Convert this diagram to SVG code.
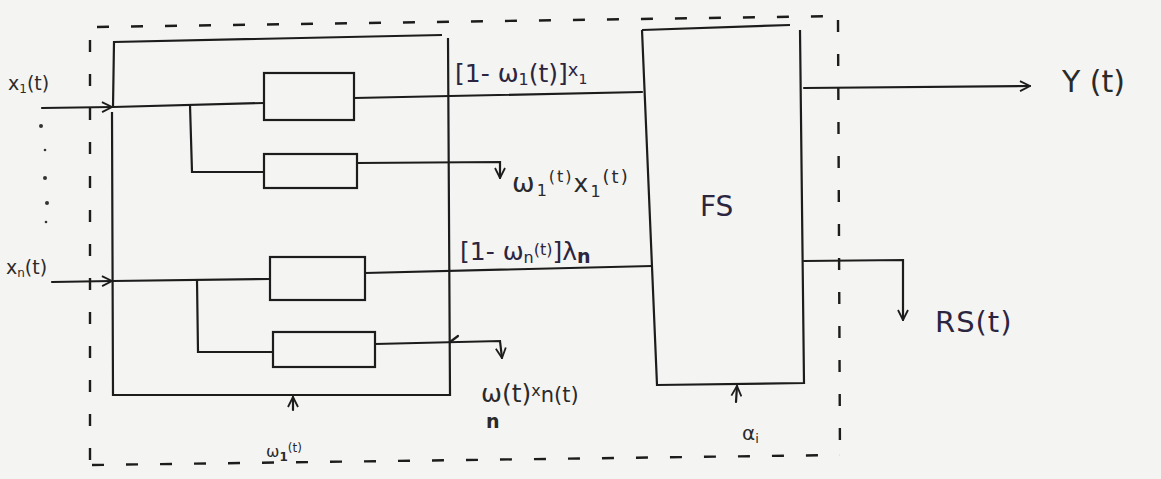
<svg xmlns="http://www.w3.org/2000/svg" width="1161" height="479" viewBox="0 0 1161 479">
<defs>
<style>
.ln{stroke:#1c1c1c;stroke-width:2.2;fill:none;stroke-linecap:round}
.bx{stroke:#1c1c1c;stroke-width:2.2;fill:none}
.ds{stroke:#1c1c1c;stroke-width:2.4;fill:none;stroke-dasharray:12 22}
.t{font-family:"DejaVu Sans",sans-serif;fill:#2a2a2a}
.tp{font-family:"DejaVu Sans",sans-serif;fill:#2c2540}
</style>
<marker id="ar" viewBox="0 0 12 12" refX="11" refY="6" markerWidth="12" markerHeight="12" markerUnits="userSpaceOnUse" orient="auto">
<path d="M1,1 L11,6 L1,11" fill="none" stroke="#1c1c1c" stroke-width="1.8"/>
</marker>
</defs>
<rect width="1161" height="479" fill="#f4f4f2"/>
<g id="boundary">
<path class="ds" d="M97,27 L840,16"/>
<path class="ds" d="M838,20 L840,460"/>
<path class="ds" d="M92,465 L840,455"/>
<path class="ds" d="M90,40 L90,462"/>
</g>
<g id="dots" fill="#333">
<circle cx="41" cy="126" r="2"/>
<circle cx="45" cy="178" r="2"/>
<circle cx="47" cy="203" r="2"/>
<circle cx="45" cy="150" r="1.3"/>
<circle cx="46" cy="222" r="1.3"/>
</g>
<g id="inner-box"><path class="bx" d="M113,107 L114,42 L442,35 M448,38 L450,395 L113,395 L112,112"/></g>
<g id="box1"><rect class="bx" x="264" y="73" width="90" height="47"/></g>
<g id="box2"><rect class="bx" x="264" y="154" width="93" height="34"/></g>
<g id="box3"><rect class="bx" x="270" y="257" width="95" height="43"/></g>
<g id="box4"><rect class="bx" x="273" y="332" width="102" height="35"/></g>
<g id="fs"><path class="bx" d="M642,30 L790,25 M800,30 L804,383 L657,385 L642,30"/>
<text class="tp" x="700" y="216" font-size="28">FS</text></g>
<g id="connectors">
<path class="ln" d="M42,108 L112,107" marker-end="url(#ar)"/>
<path class="ln" d="M113,107 L264,103"/>
<path class="ln" d="M190,105 L192,172 L264,172"/>
<path class="ln" d="M354,98 L642,92"/>
<path class="ln" d="M357,163 L500,162 L500,178" marker-end="url(#ar)"/>
<path class="ln" d="M52,282 L112,281" marker-end="url(#ar)"/>
<path class="ln" d="M113,281 L270,279"/>
<path class="ln" d="M197,280 L198,352 L273,352"/>
<path class="ln" d="M365,273 L652,266"/>
<path class="ln" d="M375,344 L500,341 L502,358" marker-end="url(#ar)"/>
<path class="ln" d="M458,336 L450,342"/>
<path class="ln" d="M804,88 L1030,86" marker-end="url(#ar)"/>
<path class="ln" d="M804,261 L903,260 L903,320" marker-end="url(#ar)"/>
<path class="ln" d="M293,410 L293,397" marker-end="url(#ar)"/>
<path class="ln" d="M736,402 L737,386" marker-end="url(#ar)"/>
</g>
<g id="labels">
<text class="t" x="8" y="90" font-size="19">x<tspan font-size="12" dy="3">1</tspan><tspan dy="-3">(t)</tspan></text>
<text class="t" x="6" y="274" font-size="19">x<tspan font-size="12" dy="3">n</tspan><tspan dy="-3">(t)</tspan></text>
<text class="tp" x="455" y="82" font-size="25">[1- ω<tspan font-size="16" dy="3">1</tspan><tspan dy="-3">(t)]</tspan><tspan font-size="18" dy="-6">x</tspan><tspan font-size="14" dy="8">1</tspan></text>
<text class="t" x="512" y="192" font-size="27" letter-spacing="2">ω<tspan font-size="16" dy="4">1</tspan><tspan font-size="16" dy="-14">(t)</tspan><tspan font-size="25" dy="10">x</tspan><tspan font-size="16" dy="5">1</tspan><tspan font-size="18" dy="-14">(t)</tspan></text>
<text class="tp" x="460" y="260" font-size="25">[1- ω<tspan font-size="16" dy="3">n</tspan><tspan font-size="16" dy="-8">(t)</tspan><tspan dy="5">]λ</tspan><tspan font-size="19" dy="3" font-weight="bold">n</tspan></text>
<text class="t" x="481" y="402" font-size="25">ω(t)<tspan font-size="16" dy="-6">x</tspan><tspan font-size="21" dy="6">n(t)</tspan></text>
<text class="t" x="486" y="428" font-size="19" font-weight="bold">n</text>
<text class="t" x="1062" y="92" font-size="30">Y (t)</text>
<text class="tp" x="935" y="332" font-size="29" letter-spacing="1">RS(t)</text>
<text class="t" x="742" y="440" font-size="20">α<tspan font-size="13" dy="3">i</tspan></text>
<text class="t" x="266" y="457" font-size="16">ω<tspan font-size="12" dy="4" font-weight="bold">1</tspan><tspan font-size="12" dy="-9">(t)</tspan></text>
</g>
</svg>
